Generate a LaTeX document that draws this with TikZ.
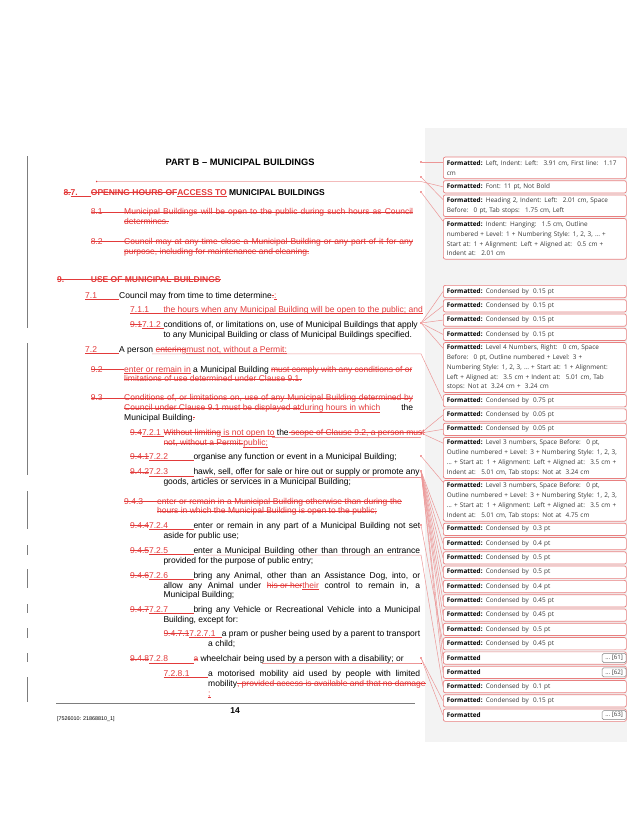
\documentclass[tikz,border=0pt]{standalone}
\usepackage{fontspec}
\setmainfont{Liberation Sans}
\newfontfamily\notefamily{Open Sans}
\usepackage{xcolor}
\usetikzlibrary{positioning}

\definecolor{chg}{RGB}{226,58,58}
\definecolor{notered}{RGB}{232,128,128}
\definecolor{linkred}{RGB}{236,150,150}
\definecolor{panel}{RGB}{243,243,243}
\definecolor{barcol}{RGB}{125,125,125}
\definecolor{notetext}{RGB}{55,55,55}

\newcommand\bodyfont{\fontsize{8.5}{10}\selectfont}
\newcommand\notefont{\notefamily\fontsize{6.4}{9.8}\selectfont\color{notetext}}
% tracked changes
\newcommand\del[1]{{\color{chg}\setbox0\hbox{#1}\rlap{\rule[2.7pt]{\wd0}{0.45pt}}\box0}}
\newcommand\ins[1]{{\color{chg}\setbox0\hbox{#1}\rlap{\rule[-1.4pt]{\wd0}{0.45pt}}\box0}}
\newcommand\numcell[3]{\setbox2\hbox{#2}\del{#2}\ins{\makebox[\dimexpr#1-\wd2\relax][l]{#3}}}
\newcommand\fmt{\textbf{\color{black}Formatted:}}

\begin{document}
\begin{tikzpicture}[x=1pt,y=-1pt,
  txt/.style={anchor=base west,inner sep=0pt,font=\bodyfont},
  note/.style={draw=notered,line width=0.7pt,rounded corners=2pt,fill=white,
    text width=176pt,align=left,inner xsep=3.5pt,inner ysep=1pt,
    minimum height=12.3pt,font=\notefont},
  more/.style={draw=gray,line width=0.5pt,rounded corners=1.5pt,fill=white,
    minimum width=24pt,minimum height=9pt,inner xsep=1.5pt,inner ysep=0.5pt,
    font=\notefamily\fontsize{6.2}{7}\selectfont\color{darkgray}},
  link/.style={draw=linkred,line width=0.5pt},
  dot/.style={circle,fill=chg,inner sep=0pt,minimum size=1.8pt},
  chgbar/.style={draw=barcol,line width=0.8pt}]
  \useasboundingbox (0,0) rectangle (637,825);

  % Comment pane
  \fill[panel] (425,128) rectangle (627,742);

  % Change bars
  \draw[chgbar] (27,156) -- (27,328);
  \draw[chgbar] (27,343) -- (27,475);
  \draw[chgbar] (27,491) -- (27,529);
  \draw[chgbar] (27,545) -- (27,555);
  \draw[chgbar] (27,569) -- (27,588);
  \draw[chgbar] (27,604) -- (27,613);
  \draw[chgbar] (27,628) -- (27,638);
  \draw[chgbar] (27,653) -- (27,662);
  \draw[chgbar] (27,677) -- (27,702);

  % Title and clause 8
  \node[txt,anchor=base,font=\bfseries\fontsize{9.3}{11}\selectfont] (title) at (240,165.6) {PART B -- MUNICIPAL BUILDINGS};
  \node[txt,font=\bodyfont\bfseries] (h8) at (63.3,195.5) {\numcell{27.4pt}{8.}{7.}\del{OPENING HOURS OF}\ins{ACCESS TO} MUNICIPAL BUILDINGS};
  \node[txt] (p81) at (90.7,214.7) {\del{\makebox[33.3pt][l]{8.1}\makebox[289pt][s]{Municipal Buildings will be open to the public during such hours as Council}}};
  \node[txt] (p81b) at (124,224) {\del{determines.}};
  \node[txt] (p82) at (90.7,244) {\del{\makebox[33.3pt][l]{8.2}\makebox[289pt][s]{Council may at any time close a Municipal Building or any part of it for any}}};
  \node[txt] (p82b) at (124,254) {\del{purpose, including for maintenance and cleaning.}};

  % Clause 9 / 7
  \node[txt,font=\bodyfont\bfseries] (h9) at (57,282.3) {\del{\makebox[33.7pt][l]{9.}USE OF MUNICIPAL BUILDINGS}};
  \node[txt] (p71) at (85,298) {\numcell{34pt}{}{7.1}Council may from time to time determine\del{.}\ins{:}};
  \node[txt] (p711) at (130,312.3) {\numcell{33.3pt}{}{7.1.1}\ins{the hours when any Municipal Building will be open to the public; and}};
  \node[txt] (p712) at (130,327) {\numcell{33.3pt}{9.1}{7.1.2}conditions of, or limitations on, use of Municipal Buildings that apply};
  \node[txt] (p712b) at (163.3,337) {to any Municipal Building or class of Municipal Buildings specified.};
  \node[txt] (p72) at (85,352.3) {\numcell{34pt}{}{7.2}A person \del{entering}\ins{must not, without a Permit:}};
  \node[txt] (p92) at (90.7,372) {\del{\makebox[33.3pt][l]{9.2}}\ins{enter or remain in} a Municipal Building \del{must comply with any conditions of or}};
  \node[txt] (p92b) at (124,381.7) {\del{limitations of use determined under Clause 9.1.}};
  \node[txt] (p93) at (90.7,400.7) {\del{\makebox[33.3pt][l]{9.3}\makebox[289pt][s]{Conditions of, or limitations on, use of any Municipal Building determined by}}};
  \node[txt] (p93b) at (124,410.7) {\makebox[289pt][s]{\del{Council\ under\ Clause\ 9.1\ must\ be\ displayed\ at}\ins{during hours in which}\hspace{5pt} the}};
  \node[txt] (p93c) at (124,420.3) {Municipal Building\del{.}};

  % Sub-clauses 7.2.x
  \node[txt] (p721) at (130,435.3) {\numcell{33.3pt}{9.4}{7.2.1}\del{Without limiting}\ins{ is not open to} the\del{ scope of Clause 9.2, a person must}};
  \node[txt] (p721b) at (163.3,445.7) {\del{not, without a Permit:}\ins{public;}};
  \node[txt] (p722) at (130,459) {\numcell{63.3pt}{9.4.1}{7.2.2}organise any function or event in a Municipal Building;};
  \node[txt] (p723) at (130,474.7) {\numcell{63.3pt}{9.4.2}{7.2.3}hawk, sell, offer for sale or hire out or supply or promote any};
  \node[txt] (p723b) at (163.3,484.7) {goods, articles or services in a Municipal Building;};
  \node[txt] (p943) at (124,504) {\del{\makebox[33pt][l]{9.4.3}\makebox[244.7pt][s]{enter or remain in a Municipal Building otherwise than during the}}};
  \node[txt] (p943b) at (157,513.7) {\del{hours in which the Municipal Building is open to the public;}};
  \node[txt] (p724) at (130,528.3) {\numcell{63.3pt}{9.4.4}{7.2.4}\makebox[226.7pt][s]{enter or remain in any part of a Municipal Building not set}};
  \node[txt] (p724b) at (163.3,538) {aside for public use;};
  \node[txt] (p725) at (130,553) {\numcell{63.3pt}{9.4.5}{7.2.5}\makebox[226.7pt][s]{enter a Municipal Building other than through an entrance}};
  \node[txt] (p725b) at (163.3,563) {provided for the purpose of public entry;};
  \node[txt] (p726) at (130,578) {\numcell{63.3pt}{9.4.6}{7.2.6}\makebox[226.7pt][s]{bring any Animal, other than an Assistance Dog, into, or}};
  \node[txt] (p726b) at (163.3,588) {\makebox[256.7pt][s]{allow any Animal under \del{his or her}\ins{their} control to remain in, a}};
  \node[txt] (p726c) at (163.3,597) {Municipal Building;};
  \node[txt] (p727) at (130,612.3) {\numcell{63.3pt}{9.4.7}{7.2.7}\makebox[226.7pt][s]{bring any Vehicle or Recreational Vehicle into a Municipal}};
  \node[txt] (p727b) at (163.3,622.3) {Building, except for:};
  \node[txt] (p7271) at (163.3,636.3) {\numcell{58.4pt}{9.4.7.1}{7.2.7.1}\makebox[198.3pt][s]{a pram or pusher being used by a parent to transport}};
  \node[txt] (p7271b) at (208,646.3) {a child;};
  \node[txt] (p728) at (130,661.7) {\numcell{63.3pt}{9.4.8}{7.2.8}\del{a} wheelchair being used by a person with a disability; or\ins{\hspace*{18pt}}};
  \node[txt] (p7281) at (163.3,676.3) {\numcell{44.7pt}{}{7.2.8.1}\makebox[212pt][s]{a motorised mobility aid used by people with limited}};
  \node[txt] (p7281b) at (208,686.3) {mobility\del{, provided access is available and that no damage}};
  \node[txt] (p7281c) at (208,696.3) {\ins{;}};

  % Footer
  \draw[barcol,line width=0.8pt] (56,703.3) -- (415,703.3);
  \node[txt,anchor=base,font=\bfseries\fontsize{8.5}{10}\selectfont] (page) at (235,713.5) {14};
  \node[txt,font=\fontsize{5.4}{6}\selectfont] (docref) at (57,720.5) {[7526010: 21868810\_1]};

  % Comment boxes
  \node[note,anchor=north west,minimum height=21.6pt] (c1) at (443,156.7) {\fmt{} Left, Indent: Left:~ 3.91 cm, First line:~ 1.17\\cm};
  \node[note,below=1.3pt of c1] (c2) {\fmt{} Font: 11 pt, Not Bold};
  \node[note,minimum height=21.6pt,below=1.3pt of c2] (c3) {\fmt{} Heading 2, Indent: Left:~ 2.01 cm, Space\\Before:~ 0 pt, Tab stops:~ 1.75 cm, Left};
  \node[note,minimum height=40.6pt,below=1.3pt of c3] (c4) {\fmt{} Indent: Hanging:~ 1.5 cm, Outline\\numbered + Level: 1 + Numbering Style: 1, 2, 3, … +\\Start at: 1 + Alignment: Left + Aligned at:~ 0.5 cm +\\Indent at:~ 2.01 cm};

  \node[note,anchor=north west] (c5) at (443,285) {\fmt{} Condensed by~ 0.15 pt};
  \node[note,below=1.3pt of c5] (c6) {\fmt{} Condensed by~ 0.15 pt};
  \node[note,below=1.3pt of c6] (c7) {\fmt{} Condensed by~ 0.15 pt};
  \node[note,below=1.3pt of c7] (c8) {\fmt{} Condensed by~ 0.15 pt};
  \node[note,minimum height=50pt,below=1.3pt of c8] (c9) {\fmt{} Level 4 Numbers, Right:~ 0 cm, Space\\Before:~ 0 pt, Outline numbered + Level: 3 +\\Numbering Style: 1, 2, 3, … + Start at: 1 + Alignment:\\Left + Aligned at:~ 3.5 cm + Indent at:~ 5.01 cm, Tab\\stops: Not at~ 3.24 cm +~ 3.24 cm};
  \node[note,below=1.3pt of c9] (c10) {\fmt{} Condensed by~ 0.75 pt};
  \node[note,below=1.3pt of c10] (c11) {\fmt{} Condensed by~ 0.05 pt};
  \node[note,below=1.3pt of c11] (c12) {\fmt{} Condensed by~ 0.05 pt};
  \node[note,minimum height=41pt,below=1.3pt of c12] (c13) {\fmt{} Level 3 numbers, Space Before:~ 0 pt,\\Outline numbered + Level: 3 + Numbering Style: 1, 2, 3,\\… + Start at: 1 + Alignment: Left + Aligned at:~ 3.5 cm +\\Indent at:~ 5.01 cm, Tab stops: Not at~ 3.24 cm};
  \node[note,minimum height=40.7pt,below=1.3pt of c13] (c14) {\fmt{} Level 3 numbers, Space Before:~ 0 pt,\\Outline numbered + Level: 3 + Numbering Style: 1, 2, 3,\\… + Start at: 1 + Alignment: Left + Aligned at:~ 3.5 cm +\\Indent at:~ 5.01 cm, Tab stops: Not at~ 4.75 cm};
  \node[note,below=1.3pt of c14] (c15) {\fmt{} Condensed by~ 0.3 pt};
  \node[note,below=1.3pt of c15] (c16) {\fmt{} Condensed by~ 0.4 pt};
  \node[note,below=1.3pt of c16] (c17) {\fmt{} Condensed by~ 0.5 pt};
  \node[note,below=1.3pt of c17] (c18) {\fmt{} Condensed by~ 0.5 pt};
  \node[note,below=1.3pt of c18] (c19) {\fmt{} Condensed by~ 0.4 pt};
  \node[note,below=1.3pt of c19] (c20) {\fmt{} Condensed by~ 0.45 pt};
  \node[note,below=1.3pt of c20] (c21) {\fmt{} Condensed by~ 0.45 pt};
  \node[note,below=1.3pt of c21] (c22) {\fmt{} Condensed by~ 0.5 pt};
  \node[note,below=1.3pt of c22] (c23) {\fmt{} Condensed by~ 0.45 pt};
  \node[note,below=1.3pt of c23] (c24) {\textbf{\color{black}Formatted}};
  \node[note,below=1.3pt of c24] (c25) {\textbf{\color{black}Formatted}};
  \node[note,below=1.3pt of c25] (c26) {\fmt{} Condensed by~ 0.1 pt};
  \node[note,below=1.3pt of c26] (c27) {\fmt{} Condensed by~ 0.15 pt};
  \node[note,below=1.3pt of c27] (c28) {\textbf{\color{black}Formatted}};
  \node[more,anchor=east] (x61) at ([xshift=-0.3pt]c24.east) {… [61]};
  \node[more,anchor=east] (x62) at ([xshift=-0.3pt]c25.east) {… [62]};
  \node[more,anchor=east] (x63) at ([xshift=-0.3pt]c28.east) {… [63]};

  % Markers
  \node[dot] (mk1) at (421,162) {};
  \node[dot] (mk2) at (96.7,181.5) {};
  \node[dot] (mk3) at (421,177) {};
  \node[dot] (mk4) at (421,192) {};
  \node[dot] (mk5) at (421,323) {};
  \node[dot] (mk6) at (421,433) {};
  \node[dot] (mk7) at (421,456) {};
  \node[dot] (mk8) at (421,471) {};
  \node[dot] (mk9) at (421,525) {};
  \node[dot] (mk10) at (421,658) {};
  \coordinate (s72) at (152,353.8);
  \coordinate (s721) at (272,436.8);
  \coordinate (s723) at (205,476.8);
  \coordinate (s725) at (203,555);
  \coordinate (s728) at (262,663.5);

  % Connectors
  \draw[link] (mk1) -- (c1.west |- mk1);
  \draw[link] (mk2) -- (mk2 -| mk1) -- (c2.west);
  \draw[link] (mk3) -- ([yshift=-5pt]c3.north west);
  \draw[link] (mk4) -- ([yshift=-3pt]c4.north west);
  \draw[link] (mk5) -- (c5.west);
  \draw[link] (mk5) -- (c6.west);
  \draw[link] (mk5) -- (c7.west);
  \draw[link] (mk5) -- (c8.west);
  \draw[link] (mk5) -- ([yshift=-6pt]c9.north west);
  \draw[link] (s72) -- (s72 -| mk5) -- (c10.west);
  \draw[link] (s721) -- (s721 -| mk6);
  \draw[link] (mk6) -- (c11.west);
  \draw[link] (mk6) -- (c12.west);
  \draw[link] (mk6) -- ([yshift=-6pt]c13.north west);
  \draw[link] (mk7) -- ([yshift=-2pt]c14.north west);
  \draw[link] (s723) -- (s723 -| mk8);
  \draw[link] (mk8) -- (c15.west);
  \draw[link] (mk8) -- (c16.west);
  \draw[link] (mk8) -- (c17.west);
  \draw[link] (mk8) -- (c18.west);
  \draw[link] (mk8) -- (c19.west);
  \draw[link] (mk8) -- (c20.west);
  \draw[link] (mk8) -- (c21.west);
  \draw[link] (mk8) -- (c22.west);
  \draw[link] (mk8) -- (c24.west);
  \draw[link] (mk8) -- (c25.west);
  \draw[link] (mk9) -- (c23.west);
  \draw[link] (s725) -- (s725 -| mk9) -- (c26.west);
  \draw[link] (s728) -- (s728 -| mk10);
  \draw[link] (mk10) -- (c27.west);
  \draw[link] (mk10) -- (c28.west);
\end{tikzpicture}
\end{document}
